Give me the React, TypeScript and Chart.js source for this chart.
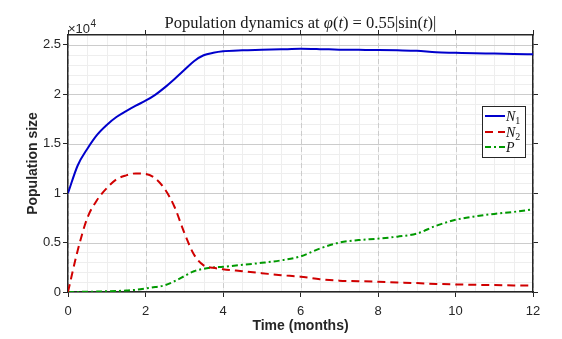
import React, { useEffect, useRef } from "react";
import { Chart, registerables } from "chart.js";
Chart.register(...registerables);

const times = [0, 0.25, 0.5, 0.75, 1, 1.25, 1.5, 1.75, 2, 2.25, 2.5, 2.75, 3, 3.25, 3.5, 3.75, 4, 4.5, 5, 5.5, 6, 6.5, 7, 7.5, 8, 8.5, 9, 9.5, 10, 10.5, 11, 11.5, 12];

const n1Values = [10000, 12800, 14500, 15900, 16900, 17700, 18300, 18850, 19350, 19950, 20700, 21550, 22450, 23350, 23950, 24200, 24350, 24450, 24500, 24550, 24600, 24570, 24520, 24500, 24480, 24450, 24400, 24250, 24200, 24150, 24120, 24080, 24050];

const n2Values = [0, 4200, 7500, 9300, 10500, 11400, 11800, 12000, 11950, 11500, 10400, 8600, 6000, 3800, 2700, 2450, 2300, 2100, 1900, 1700, 1550, 1300, 1150, 1100, 1040, 970, 900, 820, 770, 730, 700, 670, 640];

const pValues = [0, 10, 20, 40, 70, 100, 150, 220, 350, 500, 680, 1100, 1600, 2100, 2350, 2480, 2550, 2750, 2950, 3200, 3600, 4400, 5000, 5250, 5400, 5600, 5900, 6700, 7300, 7650, 7900, 8100, 8370];

const xTicks = [0, 2, 4, 6, 8, 10, 12];
const yTicks = [0, 5000, 10000, 15000, 20000, 25000];
const yTickLabels = ["0", "0.5", "1", "1.5", "2", "2.5"];

const seriesNames = ["N1", "N2", "P"];
const seriesColors = ["#0000cc", "#d00000", "#009900"];
const seriesDashes = [[], [8, 5], [6, 3, 2, 3]];

const SANS = "'Liberation Sans', Arial, sans-serif";
const SERIF = "'Liberation Serif', 'DejaVu Serif', serif";
const AXIS = "#262626";

const decoPlugin = {
  id: "deco",
  beforeDraw(chart: any) {
    const { ctx, chartArea: a, scales } = chart;
    const xs = scales.x;
    const ys = scales.y;
    ctx.save();
    ctx.lineWidth = 1;
    ctx.strokeStyle = "#eeeeee";
    for (let t = 0.5; t < 12; t += 0.5) {
      const px = Math.round(xs.getPixelForValue(t)) + 0.5;
      ctx.beginPath(); ctx.moveTo(px, a.top); ctx.lineTo(px, a.bottom); ctx.stroke();
    }
    for (let v = 1000; v < 26000; v += 1000) {
      const py = Math.round(ys.getPixelForValue(v)) + 0.5;
      ctx.beginPath(); ctx.moveTo(a.left, py); ctx.lineTo(a.right, py); ctx.stroke();
    }
    ctx.strokeStyle = "#cccccc";
    for (const v of yTicks) {
      const py = Math.round(ys.getPixelForValue(v)) + 0.5;
      ctx.beginPath(); ctx.moveTo(a.left, py); ctx.lineTo(a.right, py); ctx.stroke();
    }
    ctx.setLineDash([5, 3]);
    for (const t of xTicks) {
      const px = Math.round(xs.getPixelForValue(t)) + 0.5;
      ctx.beginPath(); ctx.moveTo(px, a.top); ctx.lineTo(px, a.bottom); ctx.stroke();
    }
    ctx.restore();
  },
  afterDraw(chart: any) {
    const { ctx, chartArea: a } = chart;
    ctx.save();
    const segs: [string, boolean][] = [
      ["Population dynamics at ", false],
      ["φ", true],
      ["(", false],
      ["t", true],
      [") = 0.55|sin(", false],
      ["t", true],
      [")|", false],
    ];
    const font = (sz: number, it: boolean) => `${it ? "italic " : ""}${sz}px ${SERIF}`;
    const measure = (sz: number) => segs.reduce((w, [s, it]) => { ctx.font = font(sz, it); return w + ctx.measureText(s).width; }, 0);
    let sz = 15;
    sz = Math.max(12, Math.min(17, (sz * 272) / measure(sz)));
    const total = measure(sz);
    let x = (a.left + a.right) / 2 - total / 2;
    ctx.fillStyle = "#1a1a1a";
    ctx.textBaseline = "alphabetic";
    ctx.textAlign = "left";
    for (const [s, it] of segs) {
      ctx.font = font(sz, it);
      ctx.fillText(s, x, 28);
      x += ctx.measureText(s).width;
    }
    ctx.fillStyle = AXIS;
    ctx.font = `13px ${SANS}`;
    ctx.fillText("×10", a.left, 33);
    const w10 = ctx.measureText("×10").width;
    ctx.font = `10px ${SANS}`;
    ctx.fillText("4", a.left + w10 + 0.5, 27);
    ctx.font = `bold 14px ${SANS}`;
    ctx.textAlign = "center";
    ctx.textBaseline = "middle";
    ctx.fillText("Time (months)", (a.left + a.right) / 2, 326);
    ctx.save();
    ctx.translate(33, (a.top + a.bottom) / 2);
    ctx.rotate(-Math.PI / 2);
    ctx.fillText("Population size", 0, 0);
    ctx.restore();
    const lx = 482.5, ly = 106.5, lw = 43, lh = 51;
    ctx.fillStyle = "#fff";
    ctx.fillRect(lx, ly, lw, lh);
    ctx.strokeStyle = AXIS;
    ctx.lineWidth = 1;
    ctx.strokeRect(lx, ly, lw, lh);
    const rows = [116, 132, 147];
    for (let i = 0; i < 3; i++) {
      const y = rows[i];
      ctx.strokeStyle = seriesColors[i];
      ctx.lineWidth = 2;
      ctx.setLineDash(seriesDashes[i]);
      ctx.beginPath(); ctx.moveTo(485, y); ctx.lineTo(505, y); ctx.stroke();
      ctx.setLineDash([]);
      ctx.fillStyle = "#111";
      ctx.textAlign = "left";
      ctx.textBaseline = "alphabetic";
      const name = seriesNames[i];
      ctx.font = `italic 14px ${SERIF}`;
      ctx.fillText(name[0], 506, y + 5);
      const wn = ctx.measureText(name[0]).width;
      if (name.length > 1) {
        ctx.font = `10px ${SERIF}`;
        ctx.fillText(name.slice(1), 506 + wn, y + 8);
      }
    }
    ctx.restore();
  },
};

function App() {
  const ref = useRef<HTMLCanvasElement | null>(null);
  useEffect(() => {
    if (!ref.current) return;
    const mk = (vals: number[]) => times.map((t, i) => ({ x: t, y: vals[i] }));
    const allVals = [n1Values, n2Values, pValues];
    const gridCommon = {
      display: true,
      drawOnChartArea: false,
      drawTicks: true,
      tickLength: 5,
      tickColor: AXIS,
      tickWidth: 1,
    };
    const borderCommon = { display: true, color: AXIS, width: 1.5 };
    const setX = (s: any) => { s.ticks = xTicks.map((v) => ({ value: v })); };
    const setY = (s: any) => { s.ticks = yTicks.map((v) => ({ value: v })); };
    const chart = new Chart(ref.current, {
      type: "line",
      data: {
        datasets: allVals.map((vals, i) => ({
          label: seriesNames[i],
          data: mk(vals),
          borderColor: seriesColors[i],
          backgroundColor: seriesColors[i],
          borderWidth: 2,
          borderDash: seriesDashes[i],
          pointRadius: 0,
          cubicInterpolationMode: "monotone" as const,
          fill: false,
        })),
      },
      options: {
        animation: false,
        responsive: true,
        maintainAspectRatio: false,
        layout: { padding: 0 },
        plugins: { legend: { display: false }, title: { display: false }, tooltip: { enabled: false } },
        scales: {
          x: {
            type: "linear",
            position: "bottom",
            min: 0,
            max: 12,
            afterBuildTicks: setX,
            afterFit: (s: any) => { s.height = 47; },
            grid: gridCommon,
            border: borderCommon,
            ticks: { color: AXIS, font: { family: SANS, size: 13 }, padding: 7, maxRotation: 0, callback: (v: any) => String(v) },
          },
          x2: {
            type: "linear",
            position: "top",
            min: 0,
            max: 12,
            afterBuildTicks: setX,
            afterFit: (s: any) => { s.height = 35; },
            grid: gridCommon,
            border: borderCommon,
            ticks: { display: false },
          },
          y: {
            type: "linear",
            position: "left",
            min: 0,
            max: 26000,
            afterBuildTicks: setY,
            afterFit: (s: any) => { s.width = 68; },
            grid: gridCommon,
            border: borderCommon,
            ticks: {
              color: AXIS,
              font: { family: SANS, size: 13 },
              padding: 2,
              callback: (v: any) => yTickLabels[yTicks.indexOf(Number(v))] ?? "",
            },
          },
          y2: {
            type: "linear",
            position: "right",
            min: 0,
            max: 26000,
            afterBuildTicks: setY,
            afterFit: (s: any) => { s.width = 29; },
            grid: gridCommon,
            border: borderCommon,
            ticks: { display: false },
          },
        },
      },
      plugins: [decoPlugin],
    });
    return () => chart.destroy();
  }, []);
  return (
    <div style={{ position: "absolute", left: 0, top: 0, width: 562, height: 339, background: "#fff" }}>
      <canvas ref={ref} width={562} height={339} />
    </div>
  );
}

export default App;
